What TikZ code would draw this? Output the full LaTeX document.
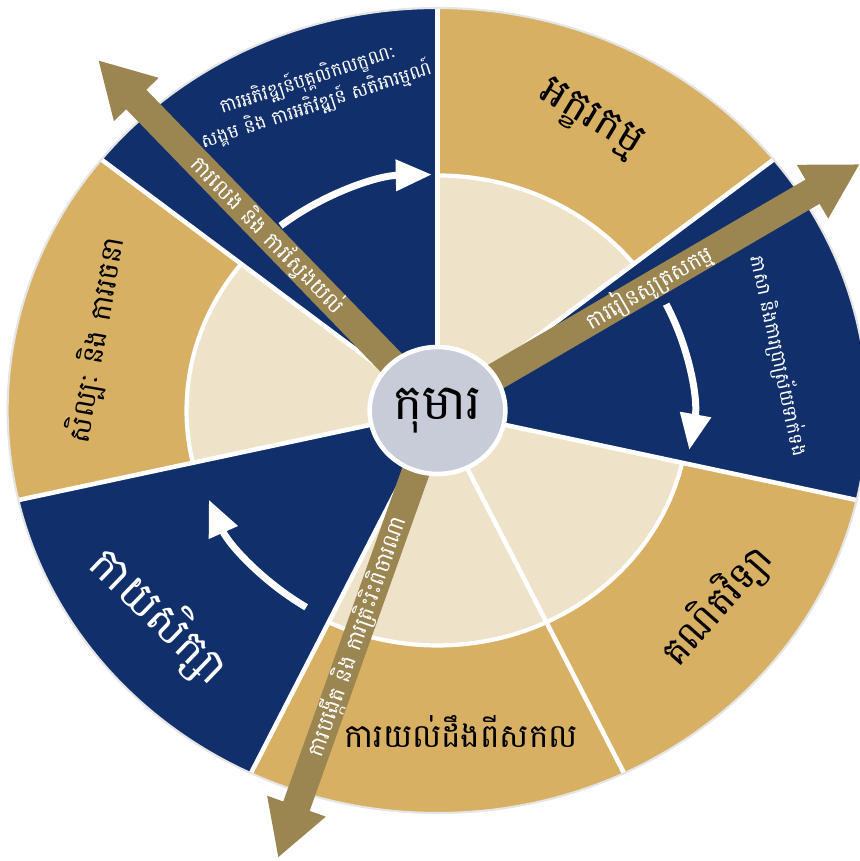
\documentclass[tikz,border=0pt]{standalone}
\usepackage{fontspec}
\newfontfamily\kh[Script=Khmer]{Battambang}
\usetikzlibrary{arrows.meta}
\definecolor{navy}{RGB}{17,48,107}
\definecolor{gold}{RGB}{216,176,99}
\definecolor{cream}{RGB}{238,227,201}
\definecolor{olive}{RGB}{155,134,82}
\definecolor{hub}{RGB}{200,203,216}
\begin{document}
\begin{tikzpicture}[
  sep/.style={white, line width=1.3pt},
  bigarrow/.style={olive, line width=0.28cm, -{Triangle[width=0.58cm,length=0.55cm]}},
  cyclearrow/.style={white, line width=0.07cm, -{Triangle[width=0.3cm,length=0.36cm]}},
  arrowtext/.style={text=white, font=\kh\fontsize{6.2}{7}\selectfont, inner sep=0pt},
  darklabel/.style={text=black, inner sep=0pt},
  lightlabel/.style={text=white, inner sep=0pt},
]
\useasboundingbox (0,0) rectangle (8.59,8.61);
\coordinate (c) at (4.375,4.505);
\coordinate (tl) at (0.98,8.01);
\coordinate (tr) at (8.60,6.97);
\coordinate (bt) at (2.78,0.03);
\begin{scope}[shift={(c)}, xscale=1.068]
  \def\R{4.025}
  \def\rc{2.35}
  \foreach \a/\b in {90/38.571, -12.857/-64.286, -64.286/-115.714, -167.143/-218.571}{
    \fill[gold] (0,0) -- (\a:\R) arc[start angle=\a, end angle=\b, radius=\R] -- cycle;
    \fill[cream] (0,0) -- (\a:\rc) arc[start angle=\a, end angle=\b, radius=\rc] -- cycle;
    \draw[white, line width=1.2pt] (\a:\rc) arc[start angle=\a, end angle=\b, radius=\rc];
  }
  \foreach \a/\b in {38.571/-12.857, -115.714/-167.143, 141.429/90}{
    \fill[navy] (0,0) -- (\a:\R) arc[start angle=\a, end angle=\b, radius=\R] -- cycle;
  }
  \foreach \a in {90,38.571,-12.857,-64.286,-115.714,-167.143,141.429}
    \draw[sep] (0,0) -- (\a:\R);
  \draw[gray!20, line width=0.6pt] (0,0) circle[radius=\R];
  \draw[cyclearrow] (128.5:2.36) arc[start angle=128.5, end angle=91.3, radius=2.36];
  \draw[cyclearrow] (26.4:2.39) arc[start angle=26.4, end angle=-9.5, radius=2.39];
  \draw[cyclearrow] (238:2.32) arc[start angle=238, end angle=202.6, radius=2.32];
\end{scope}
\draw[bigarrow] (c) -- (tl);
\draw[bigarrow] (c) -- (tr);
\draw[bigarrow] (c) -- (bt);
\path (c) -- (tl) node[arrowtext, pos=0.5, sloped] (playlbl) {ការលេង និង ការស្វែងយល់};
\path (c) -- (tr) node[arrowtext, pos=0.5, sloped] (activelbl) {ការរៀនសូត្រសកម្ម};
\path (c) -- (bt) node[arrowtext, pos=0.505, sloped] (createlbl) {ការបង្កើត និង ការត្រិះរិះពិចារណា};
\begin{scope}[shift={(c)}, xscale=1.068]
  \filldraw[fill=hub, draw=white, line width=1.3pt] (0,0) circle[radius=0.635];
\end{scope}
\node[darklabel, font=\kh\fontsize{14}{16}\selectfont] (child) at (c) {កុមារ};
\node[lightlabel, font=\kh\fontsize{5.3}{6}\selectfont, align=center, rotate=18] (pse) at (3.12,7.69) {ការអភិវឌ្ឍន៍បុគ្គលិកលក្ខណៈ\\សង្គម និង ការអភិវឌ្ឍន៍ សតិអារម្មណ៍};
\node[darklabel, font=\kh\fontsize{12}{14}\selectfont, rotate=-31] (lit) at (5.90,7.41) {អក្ខរកម្ម};
\node[lightlabel, font=\kh\fontsize{5.4}{7}\selectfont, rotate=-78] (lang) at (7.79,5.05) {ភាសា និងការប្រាស្រ័យទាក់ទង};
\node[darklabel, font=\kh\fontsize{10.7}{12}\selectfont, rotate=48.5] (math) at (7.17,2.55) {គណិតវិទ្យា};
\node[darklabel, font=\kh\fontsize{9.3}{11}\selectfont] (world) at (4.61,1.30) {ការយល់ដឹងពីសកល};
\node[lightlabel, font=\kh\fontsize{12.7}{15}\selectfont, rotate=-44] (phys) at (1.59,2.45) {កាយសិក្សា};
\node[darklabel, font=\kh\fontsize{8.1}{10}\selectfont, rotate=80] (art) at (0.97,5.21) {សិល្បៈ និង ការរចនា};
\end{tikzpicture}
\end{document}
